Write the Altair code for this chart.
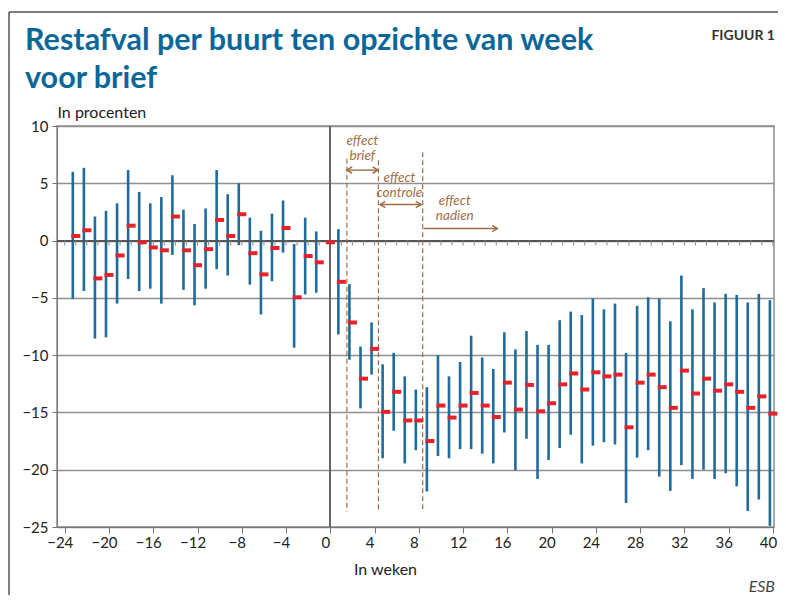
import altair as alt
import pandas as pd

# ---------------- data ----------------
weeks = list(range(-23, 41))
estimate = [0.4, 0.9, -3.3, -3.0, -1.3, 1.3, -0.15, -0.6, -0.85, 2.1,
            -0.85, -2.15, -0.75, 1.8, 0.4, 2.3, -1.1, -2.95, -0.65, 1.1,
            -4.95, -1.35, -1.9, -0.15,
            -3.6, -7.15, -12.05, -9.45, -14.95, -13.2, -15.7, -15.7, -17.5, -14.4,
            -15.45, -14.4, -13.3, -14.4, -15.4, -12.4, -14.75, -12.6, -14.9, -14.2,
            -12.55, -11.6, -13.0, -11.5, -11.85, -11.7, -16.3, -12.4, -11.7, -12.8,
            -14.6, -11.35, -13.35, -12.05, -13.1, -12.55, -13.2, -14.6, -13.6, -15.1]
ci_high = [6.0, 6.35, 2.1, 2.6, 3.25, 6.15, 4.25, 3.25, 3.8, 5.7,
           2.7, 1.45, 2.8, 6.15, 4.05, 5.0, 2.0, 0.85, 2.35, 3.5,
           -0.3, 2.0, 0.8, None,
           1.0, -3.8, -9.25, -7.15, -10.8, -9.8, -11.85, -13.0, -12.8, -10.0,
           -11.85, -10.6, -8.3, -10.2, -11.2, -8.0, -9.5, -7.9, -9.1, -9.1,
           -6.95, -6.2, -6.5, -5.05, -6.0, -5.5, -9.8, -5.7, -4.95, -5.05,
           -7.05, -3.05, -6.0, -4.15, -5.4, -4.65, -4.75, -5.4, -4.65, -5.2]
ci_low = [-5.1, -4.4, -8.55, -8.45, -5.5, -3.35, -4.4, -4.2, -5.5, -1.25,
          -4.3, -5.65, -4.2, -2.5, -3.05, -0.4, -3.85, -6.45, -3.55, -1.05,
          -9.35, -4.7, -4.55, None,
          -8.2, -10.4, -14.65, -11.7, -19.0, -16.6, -19.45, -18.3, -21.9, -18.8,
          -19.0, -18.2, -18.2, -18.6, -19.45, -16.75, -20.05, -17.3, -20.8, -19.15,
          -18.1, -16.95, -19.45, -17.9, -17.6, -17.8, -22.9, -18.95, -18.3, -20.6,
          -21.85, -19.6, -20.8, -20.0, -20.8, -20.3, -21.45, -23.6, -22.6, -24.9]

tick_weeks = list(range(-24, 41))
y_ticks = [-25, -20, -15, -10, -5, 0, 5, 10]

# phase markers (dashed lines), arrows and their labels
phase_x = [1.5, 4.35, 8.35]
phase_top = [7.15, 7.0, 7.7]
phase_bottom = [-23.65, -23.65, -23.65]
arrow_start = [1.5, 4.5, 8.45]
arrow_end = [4.3, 8.2, 15.1]
arrow_y = [6.15, 3.15, 1.05]
arrow_both = [True, True, False]
label_x = [2.9, 2.9, 6.25, 6.25, 11.25, 11.25]
label_y = [8.3, 7.0, 5.1, 3.8, 3.1, 1.8]
label_text = ["effect", "brief", "effect", "controle", "effect", "nadien"]

title_text = ["Restafval per buurt ten opzichte van week\nvoor brief"]
figure_tag = ["FIGUUR 1"]
source_tag = ["ESB"]

# ---------------- style ----------------
BLUE = "#1d6c9b"
RED = "#e3222a"
BROWN = "#9f6d45"
GRID = "#8f8f8f"
TITLE_BLUE = "#0b6799"
BODY = "Lato, Open Sans, sans-serif"

df = pd.DataFrame({"week": weeks, "est": estimate, "hi": ci_high, "lo": ci_low})
df_ticks = pd.DataFrame({"week": tick_weeks})
df_phase = pd.DataFrame({"x": phase_x, "top": phase_top, "bottom": phase_bottom})
df_arrow = pd.DataFrame({"x1": arrow_start, "x2": arrow_end, "y": arrow_y, "both": arrow_both})
df_label = pd.DataFrame({"x": label_x, "y": label_y, "label": label_text})

x_scale = alt.Scale(domain=[-24.7, 40.1], nice=False, zero=False)
y_scale = alt.Scale(domain=[-25, 10], nice=False, zero=False)

x_axis = alt.Axis(values=tick_weeks, labelExpr="datum.value % 4 === 0 ? datum.label : ''",
                  labelOverlap=False, labelFlush=False, labelOffset=-5, labelPadding=2,
                  labelFont=BODY, labelFontSize=15, labelColor="#222",
                  tickSize=6, tickColor="#777", domainColor="#777", grid=False,
                  title="In weken", titleX=328, titleY=47, titleBaseline="alphabetic",
                  titleFont=BODY, titleFontSize=16, titleFontWeight="normal", titleColor="#222")
y_axis = alt.Axis(values=y_ticks, labelFont=BODY, labelFontSize=15, labelColor="#222",
                  labelPadding=4, tickSize=5, tickColor="#777", domainColor="#777",
                  grid=True, gridColor=GRID, gridWidth=1.5,
                  title="In procenten", titleAngle=0, titleX=0, titleY=-9,
                  titleAlign="left", titleBaseline="alphabetic", titleFont=BODY,
                  titleFontSize=16, titleFontWeight="normal", titleColor="#222")

ci = alt.Chart(df).transform_filter("isValid(datum.lo)").mark_rule(
    color=BLUE, strokeWidth=2.6, xOffset=-3
).encode(
    x=alt.X("week:Q", scale=x_scale, axis=x_axis),
    y=alt.Y("hi:Q", scale=y_scale, axis=y_axis),
    y2="lo:Q",
)

zero_line = alt.Chart(df_ticks).mark_rule(color="#555", strokeWidth=1.3).encode(
    y=alt.datum(0, scale=y_scale)
)
zero_ticks = alt.Chart(df_ticks).mark_tick(
    orient="vertical", size=5, thickness=1, yOffset=2.5, color="#888", opacity=1
).encode(x=alt.X("week:Q", scale=x_scale), y=alt.datum(0, scale=y_scale))
vline = alt.Chart(df_ticks).mark_rule(color="#666", strokeWidth=1.2).encode(
    x=alt.datum(0, scale=x_scale), y=alt.datum(10, scale=y_scale), y2=alt.datum(-25)
)

marker = alt.Chart(df).mark_tick(
    orient="horizontal", size=9, thickness=4, color=RED, opacity=1
).encode(x=alt.X("week:Q", scale=x_scale), y=alt.Y("est:Q", scale=y_scale))

phase = alt.Chart(df_phase).mark_rule(color=BROWN, strokeWidth=1.2, strokeDash=[5, 3]).encode(
    x=alt.X("x:Q", scale=x_scale), y=alt.Y("top:Q", scale=y_scale), y2="bottom:Q"
)
arrow_line = alt.Chart(df_arrow).mark_rule(color=BROWN, strokeWidth=1.4).encode(
    x=alt.X("x1:Q", scale=x_scale), x2="x2:Q", y=alt.Y("y:Q", scale=y_scale)
)
head_right = alt.Chart(df_arrow).mark_point(
    shape="M-1,-0.6L0,0L-1,0.6", filled=False, stroke=BROWN, strokeWidth=1.5, size=110, opacity=1
).encode(x=alt.X("x2:Q", scale=x_scale), y=alt.Y("y:Q", scale=y_scale))
head_left = alt.Chart(df_arrow).transform_filter("datum.both").mark_point(
    shape="M1,-0.6L0,0L1,0.6", filled=False, stroke=BROWN, strokeWidth=1.5, size=110, opacity=1
).encode(x=alt.X("x1:Q", scale=x_scale), y=alt.Y("y:Q", scale=y_scale))

labels = alt.Chart(df_label).mark_text(
    font=BODY, fontStyle="italic", fontSize=13.5, color=BROWN,
    align="center", baseline="alphabetic"
).encode(x=alt.X("x:Q", scale=x_scale), y=alt.Y("y:Q", scale=y_scale), text="label:N")

title = alt.Chart(pd.DataFrame({"t": title_text})).mark_text(
    font=BODY, fontWeight="bold", fontSize=30.5, color=TITLE_BLUE, lineBreak="\n",
    lineHeight=38, align="left", baseline="alphabetic"
).encode(x=alt.value(-32), y=alt.value(-76), text="t:N")
fig_tag = alt.Chart(pd.DataFrame({"t": figure_tag})).mark_text(
    font=BODY, fontWeight="bold", fontSize=14, color="#333",
    align="right", baseline="alphabetic"
).encode(x=alt.value(718), y=alt.value(-86), text="t:N")
src_tag = alt.Chart(pd.DataFrame({"t": source_tag})).mark_text(
    font=BODY, fontStyle="italic", fontSize=16, color="#444",
    align="right", baseline="alphabetic"
).encode(x=alt.value(718), y=alt.value(466), text="t:N")

frame_top = alt.Chart(pd.DataFrame({"t": [0]})).mark_rule(color="#555", strokeWidth=1.5).encode(
    x=alt.value(-48), x2=alt.value(740), y=alt.value(-114)
)
frame_left = alt.Chart(pd.DataFrame({"t": [0]})).mark_rule(color="#555", strokeWidth=1.5).encode(
    x=alt.value(-48), y=alt.value(-114), y2=alt.value(480)
)

chart = alt.layer(
    ci, zero_line, zero_ticks, vline, phase, arrow_line, head_right, head_left,
    marker, labels, title, fig_tag, src_tag, frame_top, frame_left
).properties(
    width=717, height=401,
    padding={"left": 49, "top": 118, "right": 4, "bottom": 68},
    autosize=alt.AutoSizeParams(type="none"),
).configure_view(stroke=GRID, strokeWidth=1.5)

chart.save("out.html", embed_options={"renderer": "svg", "actions": False})
